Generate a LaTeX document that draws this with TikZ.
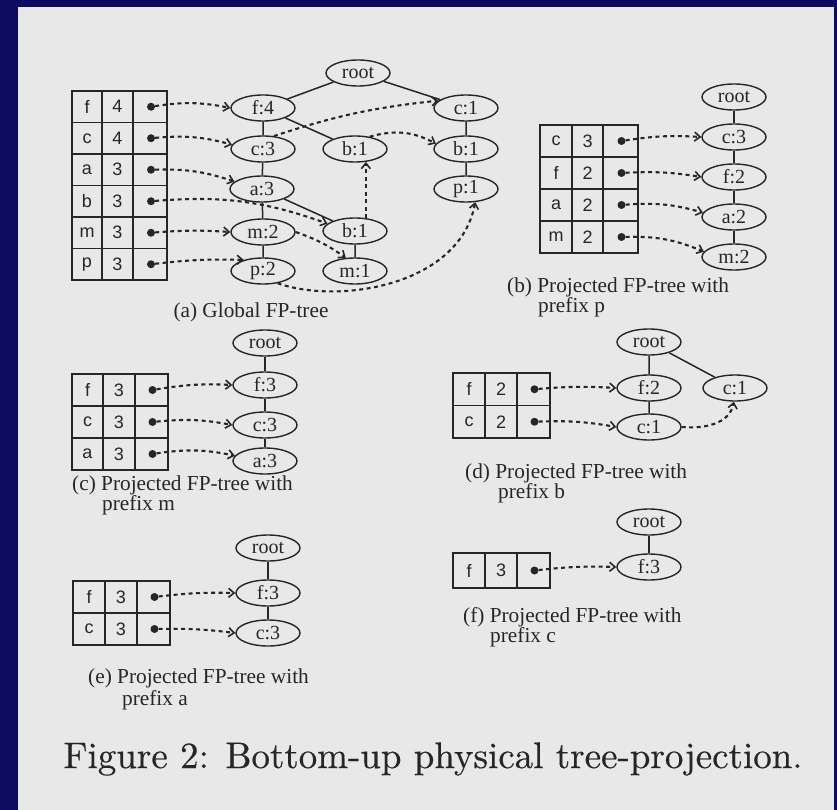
\documentclass[tikz,border=0pt]{standalone}
\usepackage{fontspec}
\usepackage{graphicx}
\newfontfamily\tnr{Liberation Serif}
\newfontfamily\ari{Liberation Sans}
\newfontfamily\capfont[FakeBold=0.4]{Latin Modern Roman}
\usetikzlibrary{shapes.geometric,arrows.meta}
\definecolor{navy}{HTML}{0B0B62}
\definecolor{paper}{HTML}{E9E8E8}
\definecolor{ink}{HTML}{262626}
\tikzset{
 nd/.style={ellipse, draw=ink, line width=1.4pt, minimum width=64pt, minimum height=26pt, inner sep=0pt, text=ink, font=\tnr\fontsize{20}{20}\selectfont},
 edg/.style={draw=ink, line width=1.5pt},
 ptr/.style={draw=ink, line width=2.1pt, dash pattern=on 4pt off 3.5pt, -{Straight Barb[length=5.5pt,width=9pt,line width=1.6pt]}},
 tabline/.style={draw=ink, line width=1.4pt},
 tabtxt/.style={text=ink, inner sep=0pt, font=\ari\fontsize{18}{18}\selectfont},
 dotn/.style={circle, fill=ink, minimum size=8pt, inner sep=0pt},
 subcap/.style={text=ink, inner sep=0pt, font=\tnr\fontsize{21.3}{21.3}\selectfont},
}
% #1 prefix, #2..#5 column x, #6 top y, #7 row height, #8 rows
\newcommand\fptab[8]{%
 \foreach \ca/\cb [count=\i] in {#8} {
   \pgfmathsetmacro\ya{#6+(\i-1)*#7}
   \pgfmathsetmacro\yb{#6+\i*#7}
   \pgfmathsetmacro\ym{#6+(\i-0.5)*#7}
   \draw[tabline] (#2,\ya) rectangle (#5,\yb);
   \draw[tabline] (#3,\ya) -- (#3,\yb) (#4,\ya) -- (#4,\yb);
   \node[tabtxt] (#1l\i) at ({(#2+#3)/2},\ym) {\ca};
   \node[tabtxt] (#1n\i) at ({(#3+#4)/2},\ym) {\cb};
   \node[dotn] (#1d\i) at ({(#4+#5)/2+1},\ym) {};
 }}
\begin{document}
\begin{tikzpicture}[x=1pt,y=-1pt]
\useasboundingbox (0,0) rectangle (837,810);
\fill[navy] (0,0) rectangle (837,810);
\fill[paper] (18,7) rectangle (834,810);

% ---------- (a) global FP-tree ----------
\fptab{a}{72}{102}{133}{167}{91}{31.5}{f/4,c/4,a/3,b/3,m/3,p/3}
\node[nd] (aroot) at (358,73) {root};
\node[nd] (af4) at (263,108) {f:4};
\node[nd] (ac3) at (263,149) {c:3};
\node[nd] (aa3) at (262,189) {a:3};
\node[nd] (am2) at (263,232) {m:2};
\node[nd] (ap2) at (263,271) {p:2};
\node[nd] (ab1u) at (355,149) {b:1};
\node[nd] (ab1l) at (355,231) {b:1};
\node[nd] (am1) at (355,271) {m:1};
\node[nd] (ac1) at (466,108) {c:1};
\node[nd] (ab1r) at (466,149) {b:1};
\node[nd] (ap1) at (466,189) {p:1};
\draw[edg] (aroot) -- (af4) (aroot) -- (ac1) (af4) -- (ac3) (ac3) -- (aa3) (aa3) -- (am2) (am2) -- (ap2)
  (af4) -- (ab1u) (aa3) -- (ab1l) (ab1l) -- (am1) (ac1) -- (ab1r) (ab1r) -- (ap1);
\draw[ptr] (ad1) to[bend left=10] (af4.west);
\draw[ptr] (ad2) to[bend left=10] (ac3.172);
\draw[ptr] (ad3) to[bend left=10] (aa3.165);
\draw[ptr] (ad4) to[bend left=12] (ab1l.165);
\draw[ptr] (ad5) to[bend left=4] (am2.west);
\draw[ptr] (ad6) to[bend left=4] (ap2.150);
\draw[ptr] (ac3.50) to[bend left=6] (ac1.165);
\draw[ptr] (ab1u.40) to[bend left=22] (ab1r.170);
\draw[ptr] (ab1l.50) -- (ab1u.-50);
\draw[ptr] (am2.east) to[bend left=8] (am1.125);
\draw[ptr] (ap2.-40) .. controls (340,305) and (460,285) .. (ap1.-55);
\node[subcap] (capa) at (251,312) {(a) Global FP-tree};

% ---------- (b) prefix p ----------
\fptab{b}{540}{572}{603}{638}{125}{32}{c/3,f/2,a/2,m/2}
\node[nd] (broot) at (734,97) {root};
\node[nd] (bc3) at (734,137) {c:3};
\node[nd] (bf2) at (734,177) {f:2};
\node[nd] (ba2) at (734,217) {a:2};
\node[nd] (bm2) at (734,257) {m:2};
\draw[edg] (broot) -- (bc3) -- (bf2) -- (ba2) -- (bm2);
\draw[ptr] (bd1) to[bend left=6] (bc3.west);
\draw[ptr] (bd2) to[bend left=6] (bf2.west);
\draw[ptr] (bd3) to[bend left=10] (ba2.172);
\draw[ptr] (bd4) to[bend left=12] (bm2.170);
\node[subcap, anchor=west] (capb1) at (507,287) {(b) Projected FP-tree with};
\node[subcap, anchor=west] (capb2) at (538,307) {prefix p};

% ---------- (c) prefix m ----------
\fptab{c}{72}{103}{135}{168}{374}{32}{f/3,c/3,a/3}
\node[nd] (croot) at (265,343) {root};
\node[nd] (cf3) at (265,385) {f:3};
\node[nd] (cc3) at (265,425) {c:3};
\node[nd] (ca3) at (265,461) {a:3};
\draw[edg] (croot) -- (cf3) -- (cc3) -- (ca3);
\draw[ptr] (cd1) to[bend left=6] (cf3.west);
\draw[ptr] (cd2) to[bend left=8] (cc3.west);
\draw[ptr] (cd3) to[bend left=10] (ca3.170);
\node[subcap, anchor=west] (capc1) at (72,485) {(c) Projected FP-tree with};
\node[subcap, anchor=west] (capc2) at (102,505) {prefix m};

% ---------- (d) prefix b ----------
\fptab{d}{453}{485}{517}{550}{373}{32.5}{f/2,c/2}
\node[nd] (droot) at (649,342) {root};
\node[nd] (df2) at (649,388) {f:2};
\node[nd] (dc1) at (649,427) {c:1};
\node[nd] (dc1r) at (735,388) {c:1};
\draw[edg] (droot) -- (df2) -- (dc1) (droot) -- (dc1r);
\draw[ptr] (dd1) to[bend left=4] (df2.west);
\draw[ptr] (dd2) to[bend left=6] (dc1.west);
\draw[ptr] (dc1.east) to[out=-5,in=-100] (dc1r.-95);
\node[subcap, anchor=west] (capd1) at (465,473) {(d) Projected FP-tree with};
\node[subcap, anchor=west] (capd2) at (498,493) {prefix b};

% ---------- (e) prefix a ----------
\fptab{e}{73}{105}{137}{170}{581}{32}{f/3,c/3}
\node[nd] (eroot) at (268,548) {root};
\node[nd] (ef3) at (268,593) {f:3};
\node[nd] (ec3) at (268,633) {c:3};
\draw[edg] (eroot) -- (ef3) -- (ec3);
\draw[ptr] (ed1) to[bend left=4] (ef3.west);
\draw[ptr] (ed2) to[bend left=4] (ec3.west);
\node[subcap, anchor=west] (cape1) at (88,678) {(e) Projected FP-tree with};
\node[subcap, anchor=west] (cape2) at (122,700) {prefix a};

% ---------- (f) prefix c ----------
\fptab{f}{453}{485}{517}{550}{553}{35}{f/3}
\node[nd] (froot) at (649,522) {root};
\node[nd] (ff3) at (649,567) {f:3};
\draw[edg] (froot) -- (ff3);
\draw[ptr] (fd1) to[bend left=4] (ff3.west);
\node[subcap, anchor=west] (capf1) at (463,617) {(f) Projected FP-tree with};
\node[subcap, anchor=west] (capf2) at (490,637) {prefix c};

% ---------- figure caption ----------
\node[text=ink, inner sep=0pt] (figcap) at (433,759) {\resizebox{739pt}{!}{\capfont Figure 2: Bottom-up physical tree-projection.}};
\end{tikzpicture}
\end{document}
